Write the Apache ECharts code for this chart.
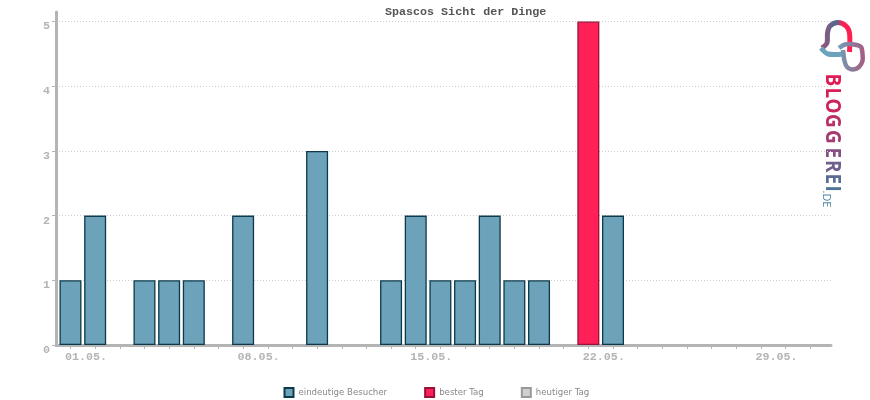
<!DOCTYPE html>
<html lang="de">

<head>
  <meta charset="utf-8">
  <title>Spascos Sicht der Dinge</title>
  <style>
    * {
      margin: 0;
      padding: 0;
    }

    #chart-container {
      width: 870px;
      height: 400px;
      overflow: hidden;
    }
  </style>
</head>

<body>
  <div id="chart-container"></div>
  <script src="https://fastly.jsdelivr.net/npm/echarts@6/dist/echarts.min.js"></script>
  <script>
    var chartTitle = 'Spascos Sicht der Dinge';
    var days = [1, 2, 3, 4, 5, 6, 7, 8, 9, 10, 11, 12, 13, 14, 15, 16, 17, 18, 19, 20, 21, 22, 23, 24, 25, 26, 27, 28, 29, 30, 31];
    var visitors = [1, 2, 0, 1, 1, 1, 0, 2, 0, 0, 3, 0, 0, 1, 2, 1, 1, 2, 1, 1, 0, 0, 2, 0, 0, 0, 0, 0, 0, 0, 0];
    var bestDay = [0, 0, 0, 0, 0, 0, 0, 0, 0, 0, 0, 0, 0, 0, 0, 0, 0, 0, 0, 0, 0, 5, 0, 0, 0, 0, 0, 0, 0, 0, 0];
    var today = [];
    var labelDays = [1, 8, 15, 22, 29];
    var yTicks = [0, 1, 2, 3, 4, 5];
    var seriesNames = ['eindeutige Besucher', 'bester Tag', 'heutiger Tag'];

    var monoFont = '"Liberation Mono", "DejaVu Sans Mono", monospace';
    var axisGrey = '#b4b4b4';

    // zero days draw nothing, not a flat border
    function toPoints(values) {
      return values.map(function (v, i) {
        return [days[i], v === 0 ? null : v];
      });
    }

    // logo lettering, one text per letter for the colour fade
    var logoLetters = [
      ['B', 73.5, '#e01c55'], ['L', 87.5, '#d81f58'], ['O', 98.5, '#cc255c'],
      ['G', 114, '#b92f66'], ['G', 130, '#a33a70'], ['E', 147.5, '#85507f'],
      ['R', 160, '#6f5f8c'], ['E', 173.5, '#5a6c96'], ['I', 185.5, '#4f7398']
    ];
    var logoGraphics = logoLetters.map(function (l) {
      return {
        type: 'text', x: 821, y: l[1], rotation: -Math.PI / 2, scaleX: 0.9,
        style: { text: l[0], fill: l[2], font: 'bold 21px "Open Sans", sans-serif', textVerticalAlign: 'bottom', textAlign: 'left' }
      };
    });

    var dom = document.getElementById('chart-container');
    var myChart = echarts.init(dom, null, { renderer: 'canvas' });

    var option = {
      animation: false,
      title: {
        text: chartTitle,
        left: 385,
        top: 6,
        padding: 0,
        textStyle: { fontFamily: monoFont, fontSize: 11.7, fontWeight: 'bold', color: '#555555' }
      },
      legend: {
        left: 283.5,
        top: 387,
        padding: 0,
        icon: 'rect',
        itemWidth: 9,
        itemHeight: 9,
        itemGap: 37,
        textStyle: { fontFamily: '"DejaVu Sans", sans-serif', fontSize: 8.6, color: '#888888' },
        data: seriesNames
      },
      grid: { left: 56, right: 39, top: 12, bottom: 55 },
      xAxis: {
        type: 'value',
        min: 0.412,
        max: 31.84,
        splitLine: { show: false },
        axisLine: { show: true, lineStyle: { color: axisGrey, width: 3 } },
        axisTick: { show: true, length: 4, customValues: days, lineStyle: { color: axisGrey } },
        axisLabel: {
          customValues: labelDays,
          margin: 6,
          padding: [0, 0, 0, 31],
          fontFamily: monoFont,
          fontSize: 11.7,
          fontWeight: 'bold',
          color: axisGrey,
          formatter: function (v) { return (v < 10 ? '0' : '') + v + '.05.'; }
        }
      },
      yAxis: {
        type: 'value',
        min: 0,
        max: 5.147,
        axisLine: { show: true, lineStyle: { color: axisGrey, width: 3 } },
        axisTick: { show: true, length: 4, customValues: yTicks, lineStyle: { color: axisGrey } },
        axisLabel: {
          customValues: yTicks,
          margin: 6,
          verticalAlign: 'top',
          lineHeight: 10,
          fontFamily: monoFont,
          fontSize: 11.7,
          fontWeight: 'bold',
          color: axisGrey
        },
        splitLine: { show: true, lineStyle: { color: '#cccccc', type: [1, 2], width: 1 } }
      },
      series: [
        {
          name: seriesNames[0],
          type: 'bar',
          barWidth: 22,
          barGap: '-100%',
          data: toPoints(visitors),
          itemStyle: { color: '#6ca2ba', borderColor: '#0c3a4a', borderWidth: 1.3 }
        },
        {
          name: seriesNames[1],
          type: 'bar',
          barWidth: 22,
          barGap: '-100%',
          data: toPoints(bestDay),
          itemStyle: { color: '#ff2057', borderColor: '#99103a', borderWidth: 1.3 }
        },
        {
          name: seriesNames[2],
          type: 'bar',
          barWidth: 22,
          barGap: '-100%',
          data: today,
          itemStyle: { color: '#d0d0d0', borderColor: '#999999', borderWidth: 1.3 }
        }
      ],
      graphic: logoGraphics.concat([
        {
          type: 'text', x: 821, y: 190.5, rotation: -Math.PI / 2,
          style: { text: '.DE', fill: '#4f86a6', font: '11px "Open Sans", sans-serif', textVerticalAlign: 'bottom', textAlign: 'left' }
        },
        {
          type: 'polyline',
          shape: { points: [[822, 48], [827, 43], [827.5, 33], [830, 26], [838, 22.5], [846, 26], [849.5, 33], [849.5, 52]], smooth: 0.3 },
          style: {
            fill: null, lineWidth: 5,
            stroke: new echarts.graphic.LinearGradient(0, 0, 1, 0, [
              { offset: 0, color: '#a5507c' }, { offset: 0.5, color: '#4f6a8f' }, { offset: 0.72, color: '#ff1f53' }, { offset: 1, color: '#ff1f53' }
            ])
          }
        },
        {
          type: 'polyline',
          shape: { points: [[821, 48], [828, 54], [843, 54]], smooth: 0.3 },
          style: { fill: null, lineWidth: 5, stroke: '#6ca2ba' }
        },
        {
          type: 'polyline',
          shape: { points: [[839, 48], [845, 44.5], [854, 44.5], [861, 47], [862.5, 54], [862.5, 61], [859, 67], [853, 69.5], [847, 67], [844.5, 61], [843, 50]], smooth: 0.3 },
          style: {
            fill: null, lineWidth: 4.5,
            stroke: new echarts.graphic.LinearGradient(0, 0, 1, 0, [
              { offset: 0, color: '#6ca2ba' }, { offset: 1, color: '#a85a80' }
            ])
          }
        }
      ])
    };

    myChart.setOption(option);
    window.addEventListener('resize', myChart.resize);
  </script>
</body>

</html>
